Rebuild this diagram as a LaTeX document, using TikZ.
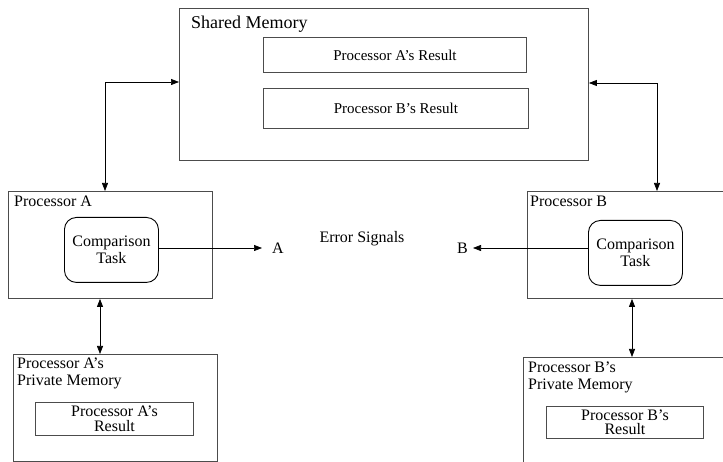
\documentclass[tikz,border=0pt]{standalone}
\usepackage{fontspec}
\setmainfont{Liberation Serif}
\usetikzlibrary{arrows.meta}
\begin{document}
\begin{tikzpicture}[x=1pt,y=-1pt,
  box/.style={rectangle, draw=black!70, line width=0.9pt, inner sep=0pt,
    anchor=north west, align=center, font=\fontsize{16}{17}\selectfont},
  taskbox/.style={box, draw=black, rounded corners=12pt},
  resbox/.style={box, font=\fontsize{16}{14.5}\selectfont},
  lbl/.style={inner sep=0pt, anchor=base west, align=left,
    font=\fontsize{16}{17}\selectfont},
  txt/.style={inner sep=0pt, font=\fontsize{16}{17}\selectfont},
  link/.style={draw=black, line width=0.7pt,
    {Triangle[length=8pt,width=6pt]}-{Triangle[length=8pt,width=6pt]}},
  signal/.style={draw=black, line width=0.7pt, -{Triangle[length=8pt,width=6pt]}}]
\useasboundingbox (0,0) rectangle (723,462);
\clip (0,0) rectangle (723,462);

% shared memory with both stored results
\node[box, minimum width=409pt, minimum height=152pt] (sm) at (179,8) {};
\node[lbl, font=\fontsize{18}{20}\selectfont] (smt) at (191,29) {Shared Memory};
\node[box, minimum width=263pt, minimum height=35pt,
  font=\fontsize{15}{17}\selectfont] (sra) at (263,37) {Processor A’s Result};
\node[box, minimum width=265pt, minimum height=40pt,
  font=\fontsize{15}{17}\selectfont] (srb) at (263,88) {Processor B’s Result};

% processors and their comparison tasks
\node[box, minimum width=204pt, minimum height=107pt] (pa) at (8,191) {};
\node[lbl] (pat) at (14,207) {Processor A};
\node[taskbox, minimum width=94pt, minimum height=65pt] (ta) at (64,217) {Comparison\\Task};

\node[box, minimum width=220pt, minimum height=107pt] (pb) at (527,191) {};
\node[lbl] (pbt) at (530,207) {Processor B};
\node[taskbox, minimum width=94pt, minimum height=65pt] (tb) at (588,220) {Comparison\\Task};

% private memories (labels placed by the baseline of their last line)
\node[box, minimum width=204pt, minimum height=107pt] (ma) at (13,354) {};
\node[lbl] (mat) at (17,385) {Processor A’s\\Private Memory};
\node[resbox, minimum width=158pt, minimum height=33pt] (ra) at (35,402) {Processor A’s\\Result};

\node[box, minimum width=220pt, minimum height=130pt] (mb) at (523,357) {};
\node[lbl] (mbt) at (528,389) {Processor B’s\\Private Memory};
\node[resbox, minimum width=157pt, minimum height=32pt] (rb) at (546,406) {Processor B’s\\Result};

% error signal outputs
\node[txt, anchor=west] (sa) at (272,248) {A};
\node[txt, anchor=east] (sb) at (468,248) {B};
\node[txt] (err) at (362,239) {Error Signals};

% connectors
\coordinate (la) at (105,82);
\coordinate (lb) at (657,83);
\coordinate (xa) at (100,0);
\coordinate (xb) at (632,0);
\draw[link] (pa.north -| la) -- (la) -- (sm.west |- la);
\draw[link] (pb.north -| lb) -- (lb) -- (sm.east |- lb);
\draw[link] (pa.south -| xa) -- (ma.north -| xa);
\draw[link] (pb.south -| xb) -- (mb.north -| xb);
\draw[signal] (ta.east |- sa.west) -- ([xshift=-10pt]sa.west);
\draw[signal] (tb.west |- sb.east) -- ([xshift=5pt]sb.east);
\end{tikzpicture}
\end{document}
